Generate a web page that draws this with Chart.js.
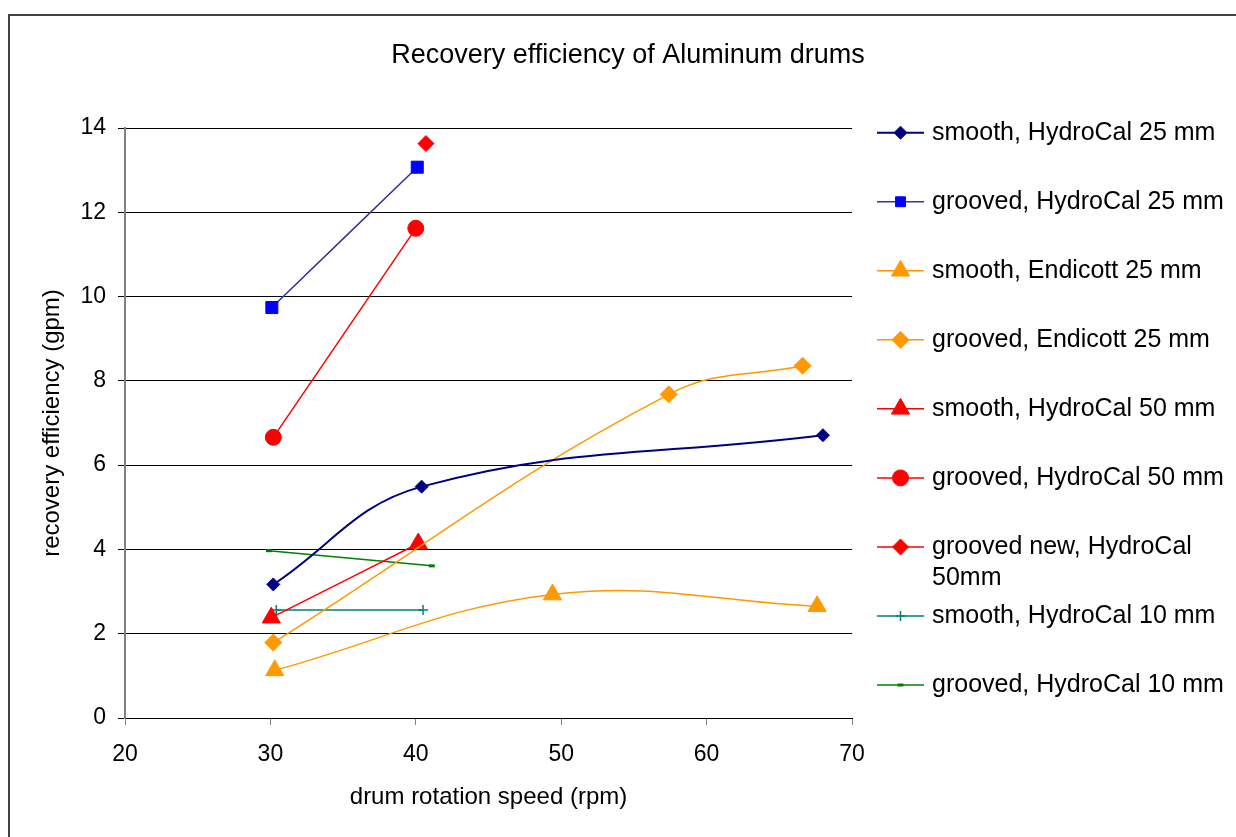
<!DOCTYPE html>
<html>
<head>
<meta charset="utf-8">
<script src="https://cdn.jsdelivr.net/npm/chart.js@4.4.0/dist/chart.umd.min.js"></script>
<style>
    html, body { margin: 0; padding: 0; background: #fff; overflow: hidden; }
    #wrap { position: relative; width: 1236px; height: 837px; }
    #frame { position: absolute; left: 8px; top: 14px; width: 1300px; height: 900px; border: 2px solid #404040; box-sizing: border-box; }
    canvas { position: absolute; left: 0; top: 0; }
</style>
</head>
<body>
<div id="wrap">
    <div id="frame"></div>
    <canvas id="chart0" width="1236" height="837"></canvas>
</div>
<script>
const chartTitle = 'Recovery efficiency of Aluminum drums';

// series names, in legend order
const seriesNames = [
    'smooth, HydroCal 25 mm',
    'grooved, HydroCal 25 mm',
    'smooth, Endicott 25 mm',
    'grooved, Endicott 25 mm',
    'smooth, HydroCal 50 mm',
    'grooved, HydroCal 50 mm',
    'grooved new, HydroCal 50mm',
    'smooth, HydroCal 10 mm',
    'grooved, HydroCal 10 mm',
];

// drum rotation speed (rpm) / recovery efficiency (gpm)
const smoothHC25Speed = [30.2, 40.4, 68.0];
const smoothHC25Eff = [3.17, 5.49, 6.71];
const groovedHC25Speed = [30.1, 40.1];
const groovedHC25Eff = [9.74, 13.07];
const smoothEnd25Speed = [30.3, 49.4, 67.6];
const smoothEnd25Eff = [1.13, 2.93, 2.65];
const groovedEnd25Speed = [30.2, 57.4, 66.6];
const groovedEnd25Eff = [1.79, 7.68, 8.36];
const smoothHC50Speed = [30.06, 40.17];
const smoothHC50Eff = [2.38, 4.14];
const groovedHC50Speed = [30.2, 40.0];
const groovedHC50Eff = [6.66, 11.62];
const groovedNewHC50Speed = [40.7];
const groovedNewHC50Eff = [13.63];
const smoothHC10Speed = [30.4, 40.5];
const smoothHC10Eff = [2.56, 2.56];
const groovedHC10Speed = [29.9, 41.1];
const groovedHC10Eff = [3.97, 3.61];

const speeds = [smoothHC25Speed, groovedHC25Speed, smoothEnd25Speed, groovedEnd25Speed,
    smoothHC50Speed, groovedHC50Speed, groovedNewHC50Speed, smoothHC10Speed, groovedHC10Speed];
const effs = [smoothHC25Eff, groovedHC25Eff, smoothEnd25Eff, groovedEnd25Eff,
    smoothHC50Eff, groovedHC50Eff, groovedNewHC50Eff, smoothHC10Eff, groovedHC10Eff];

// look of each series
const styles = [
    { line: '#000080', fill: '#000080', point: 'rectRot', r: 6.5, w: 2 },
    { line: '#333399', fill: '#0000FF', point: 'rect', r: 8.5, w: 1.5 },
    { line: '#FF9900', fill: '#FF9900', point: 'triangle', r: 10.5, w: 1.5 },
    { line: '#FF9900', fill: '#FF9900', point: 'rectRot', r: 8.5, w: 1.5 },
    { line: '#FF0000', fill: '#FF0000', point: 'triangle', r: 10.5, w: 1.5 },
    { line: '#FF0000', fill: '#FF0000', point: 'circle', r: 8, w: 1.5 },
    { line: '#FF0000', fill: '#FF0000', point: 'rectRot', r: 8, w: 1.5 },
    { line: '#008080', fill: '#008080', point: 'cross', r: 5, w: 1.5, pw: 1.5 },
    { line: '#008000', fill: '#008000', point: 'line', r: 3, w: 1.5, pw: 3 },
];

const FONT = "'Liberation Sans', Arial, Helvetica, sans-serif";
Chart.defaults.font.family = FONT;
Chart.defaults.color = '#000';

// title centred on the whole picture, legend at the right
const sideLegend = {
    id: 'sideLegend',
    afterDraw(chart) {
        const ctx = chart.ctx;
        ctx.save();
        ctx.fillStyle = '#000';
        ctx.font = '27px ' + FONT;
        ctx.textAlign = 'center';
        ctx.textBaseline = 'middle';
        ctx.fillText(chartTitle, chart.width / 2 + 10, 56);

        const x0 = chart.chartArea.right + 25;
        ctx.textAlign = 'left';
        ctx.font = '25px ' + FONT;
        chart.data.datasets.forEach((ds, i) => {
            const y = 132.7 + i * 69.04;
            ctx.strokeStyle = ds.borderColor;
            ctx.lineWidth = ds.borderWidth;
            ctx.beginPath();
            ctx.moveTo(x0, y);
            ctx.lineTo(x0 + 47, y);
            ctx.stroke();
            ctx.fillStyle = ds.pointBackgroundColor;
            ctx.strokeStyle = ds.pointBorderColor;
            ctx.lineWidth = ds.pointBorderWidth;
            const r = ds.pointStyle === 'rect' ? 7 : ds.pointRadius;
            Chart.helpers.drawPoint(ctx, {
                pointStyle: ds.pointStyle, radius: r, rotation: 0, borderWidth: ds.pointBorderWidth
            }, x0 + 23.5, y);
            // wrap long names
            ctx.fillStyle = '#000';
            const words = ds.label.split(' ');
            const lines = [];
            let cur = '';
            words.forEach(wd => {
                const t = cur ? cur + ' ' + wd : wd;
                if (ctx.measureText(t).width > 300 && cur) { lines.push(cur); cur = wd; }
                else cur = t;
            });
            lines.push(cur);
            lines.forEach((ln, k) => ctx.fillText(ln, x0 + 55, y + k * 31.6));
        });
        ctx.restore();
    }
};

const datasets = seriesNames.map((name, i) => ({
    label: name,
    data: speeds[i].map((s, j) => ({ x: s, y: effs[i][j] })),
    borderColor: styles[i].line,
    backgroundColor: styles[i].fill,
    borderWidth: styles[i].w,
    pointStyle: styles[i].point,
    pointRadius: styles[i].r,
    pointBackgroundColor: styles[i].fill,
    pointBorderColor: styles[i].fill,
    pointBorderWidth: styles[i].pw || 1,
    tension: 0.4,
    showLine: true,
}));

const ctx0 = document.getElementById('chart0').getContext('2d');
const chart0 = new Chart(ctx0, {
    type: 'scatter',
    data: { datasets: datasets },
    options: {
        responsive: false,
        animation: false,
        layout: { padding: { left: 0, right: 384, top: 128, bottom: 0 } },
        plugins: {
            legend: { display: false },
            tooltip: { enabled: false },
            title: { display: false },
        },
        scales: {
            x: {
                type: 'linear',
                min: 20,
                max: 70,
                ticks: { stepSize: 10, font: { size: 23 }, padding: 16 },
                grid: { drawOnChartArea: false, drawTicks: true, tickLength: 7, color: '#808080' },
                border: { color: '#000', width: 1 },
                title: { display: true, text: 'drum rotation speed (rpm)', font: { size: 24 }, padding: { top: 0, bottom: 25.6 } },
                afterFit: (scale) => { scale.height = 119; },
            },
            y: {
                min: 0,
                max: 14,
                ticks: { stepSize: 2, font: { size: 23 }, padding: 12 },
                grid: { color: '#000', lineWidth: 1, tickLength: 7 },
                border: { color: '#808080', width: 2 },
                title: { display: true, text: 'recovery efficiency (gpm)', font: { size: 24 }, padding: { top: 37.6, bottom: 0 } },
                afterFit: (scale) => { scale.width = 125; },
            },
        },
    },
    plugins: [sideLegend],
});
</script>
</body>
</html>
